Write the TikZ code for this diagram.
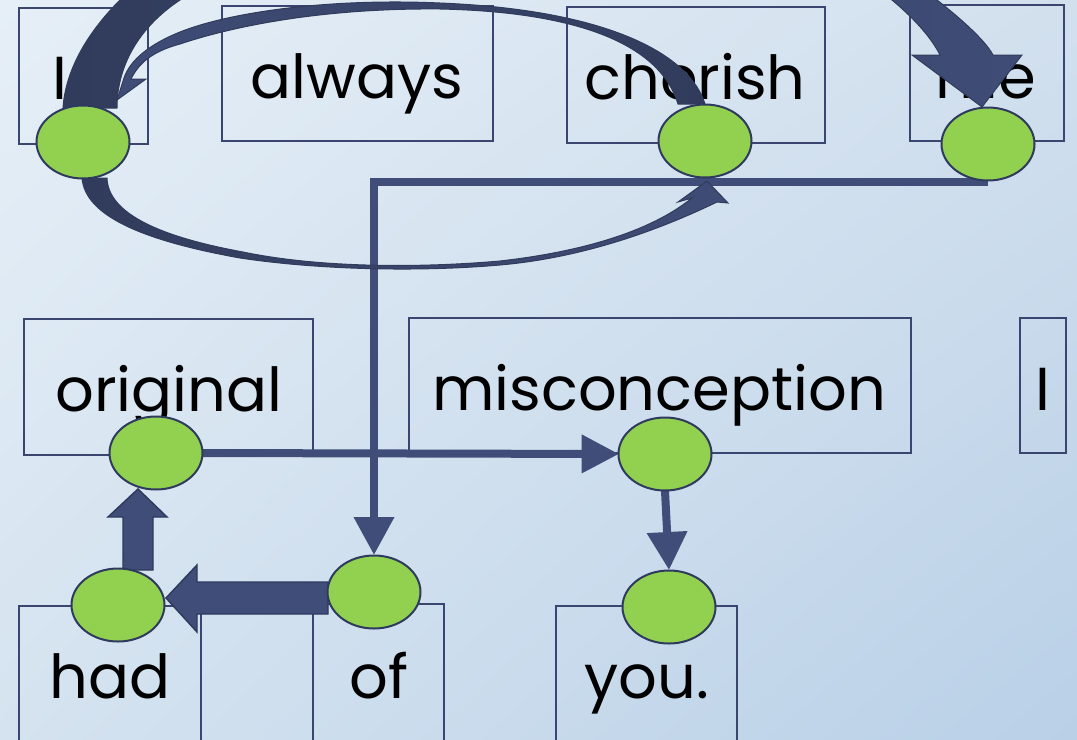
\documentclass[tikz,border=0pt]{standalone}
\usepackage{fontspec}
\setmainfont{Poppins}
\usetikzlibrary{shapes.geometric,arrows.meta,calc,shadings}
\newlength\px \setlength\px{0.75pt}
\definecolor{bgA}{HTML}{E6EFF7}
\definecolor{bgB}{HTML}{D2E0EE}
\definecolor{bgC}{HTML}{D5E3F0}
\definecolor{bgD}{HTML}{B9D0E7}
\definecolor{boxc}{HTML}{3A4670}
\definecolor{dotfill}{HTML}{92D050}
\definecolor{dotline}{HTML}{2E3A5E}
\definecolor{arrdark}{HTML}{313C5C}
\definecolor{arrmid}{HTML}{3F4C76}
\definecolor{linecol}{HTML}{404D78}
\tikzset{
  wordbox/.style={draw=boxc, line width=2\px, inner sep=0, outer sep=0, anchor=north west},
  word/.style={font=\fontsize{45.5}{46}\selectfont, inner sep=0, anchor=base, text=black},
  dot/.style={ellipse, draw=dotline, fill=dotfill, line width=2\px, inner sep=0, outer sep=0, minimum width=93\px, minimum height=73\px},
  linec/.style={draw=linecol, line width=6pt},
  tipc/.style={-{Triangle[width=29pt,length=28.5pt]}},
  tiph/.style={-{Triangle[width=27.5pt,length=28pt]}},
  bigarrow/.style={left color=arrdark, right color=arrmid, draw=arrdark, line width=0.75pt},
  thinarrow/.style={left color=arrmid, right color=arrdark, draw=arrdark, line width=0.75pt},
  botarrow/.style={left color=arrdark, right color=arrmid, draw=arrdark, line width=0.75pt},
  blockarrow/.style={fill=linecol, draw=dotline, line width=1.1pt}
}
\begin{document}
\begin{tikzpicture}[x=0.75pt,y=-0.75pt]
\useasboundingbox (0,0) rectangle (1077,739);
\clip (0,0) rectangle (1077,739);
\shade[upper left=bgA, upper right=bgB, lower left=bgC, lower right=bgD] (0,0) rectangle (1077,739);

% boxes
\node[wordbox, minimum width=129\px, minimum height=136\px] (bI) at (19,8) {};
\node[wordbox, minimum width=271\px, minimum height=135\px] (bAlways) at (222,6) {};
\node[wordbox, minimum width=258\px, minimum height=136\px] (bCherish) at (567,7) {};
\node[wordbox, minimum width=154\px, minimum height=136\px] (bMe) at (910,5) {};
\node[wordbox, minimum width=289\px, minimum height=136\px] (bOriginal) at (24,319) {};
\node[wordbox, minimum width=502\px, minimum height=135\px] (bMisc) at (409,318) {};
\node[wordbox, minimum width=46\px, minimum height=135\px] (bI2) at (1020,318) {};
\node[wordbox, minimum width=182\px, minimum height=160\px] (bHad) at (19,606) {};
\node[wordbox, minimum width=112\px, minimum height=160\px] (bEmpty) at (201,606) {};
\node[wordbox, minimum width=131\px, minimum height=160\px] (bOf) at (313,604) {};
\node[wordbox, minimum width=181\px, minimum height=160\px] (bYou) at (556,606) {};

% words
\node[word] (tI) at (60,99) {I};
\node[word] (tAlways) at (357,98) {always};
\node[word] (tCherish) at (695,99) {cherish};
\node[word] (tMe) at (986,98) {me};
\node[word] (tOriginal) at (169,411) {original};
\node[word] (tMisc) at (659,410) {misconception};
\node[word] (tI2) at (1043,410) {I};
\node[word] (tHad) at (110,698) {had};
\node[word] (tOf) at (379,698) {of};
\node[word] (tYou) at (647,698) {you.};

% ellipse centres (ellipses drawn on top later)
\path (83,142) coordinate (cI) (705,141) coordinate (cCherish) (988,144) coordinate (cMe)
      (156,453) coordinate (cOriginal) (665,454) coordinate (cMisc)
      (118,605) coordinate (cHad) (374,592) coordinate (cOf) (669,607) coordinate (cYou);

% thin curved arrow cherish -> I
\path[thinarrow] (705,104) .. controls (690,55) and (610,10) .. (440,3)
  .. controls (330,-2) and (230,12) .. (180,32)
  .. controls (150,44) and (130,60) .. (124,78) -- (117,100) -- (146,79) -- (131,79)
  .. controls (138,65) and (150,52) .. (180,44)
  .. controls (240,24) and (330,8) .. (440,9)
  .. controls (580,12) and (660,45) .. (678,104) -- cycle;

% big curved arrow I -> me
\path[bigarrow] (63,108) .. controls (66,60) and (100,20) .. (120,0)
  .. controls (230,-110) and (800,-110) .. (937,0)
  .. controls (960,18) and (985,40) .. (993,55) -- (1022,55) -- (982,107) -- (912,55) -- (940,55)
  .. controls (930,35) and (910,15) .. (892,0)
  .. controls (780,-80) and (300,-80) .. (180,0)
  .. controls (135,30) and (117,70) .. (117,108) -- cycle;

% elbow line me -> of
\draw[linec, tipc] ($(cMe)+(0,38)$) -| ($(cOf)+(0,-37)$);

% bottom curved arrow I -> cherish
\path[botarrow] (82,178) .. controls (85,215) and (140,240) .. (240,258)
  .. controls (320,270) and (420,272) .. (500,265)
  .. controls (580,258) and (655,232) .. (717,202) -- (728,203) -- (707,181) -- (678,202) -- (692,198)
  .. controls (650,232) and (580,252) .. (500,261)
  .. controls (420,268) and (320,268) .. (243,252)
  .. controls (150,235) and (108,210) .. (107,178) -- cycle;

% straight connectors
\draw[linec, tiph] ($(cOriginal)+(46,0)$) -- ($(cMisc)+(-46,0)$);
\draw[linec, tipc] ($(cMisc)+(0,37)$) -- ($(cYou)+(0,-37)$);

% block arrows
\path[blockarrow] (328,582) -- (197,582) -- (197,565) -- (166,598) -- (197,632) -- (197,614) -- (328,614) -- cycle;
\path[blockarrow] (123,570) -- (123,517) -- (108,517) -- (138,489) -- (167,517) -- (153,517) -- (153,570) -- cycle;

% ellipses on top
\node[dot] (eI) at (cI) {};
\node[dot] (eCherish) at (cCherish) {};
\node[dot] (eMe) at (cMe) {};
\node[dot] (eOriginal) at (cOriginal) {};
\node[dot] (eMisc) at (cMisc) {};
\node[dot] (eHad) at (cHad) {};
\node[dot] (eOf) at (cOf) {};
\node[dot] (eYou) at (cYou) {};
\end{tikzpicture}
\end{document}
